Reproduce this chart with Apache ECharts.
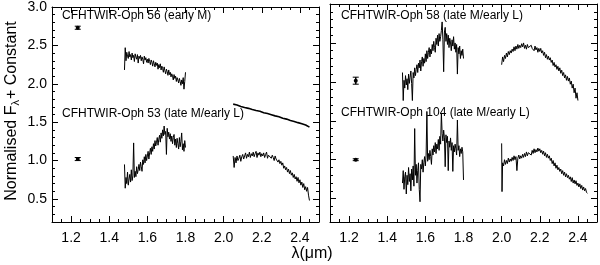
<!DOCTYPE html>
<html><head><meta charset="utf-8">
<script src="https://cdn.jsdelivr.net/npm/echarts@6/dist/echarts.min.js"></script>
<style>html,body{margin:0;padding:0;background:#fff}#c{width:600px;height:265px}</style>
</head><body><div id="c"></div>
<script>
// ---- data ----
const waveH = [
1.480,1.484,1.488,1.492,1.496,1.500,1.504,1.508,1.512,1.516,
1.520,1.524,1.528,1.532,1.536,1.540,1.544,1.548,1.552,1.556,
1.560,1.564,1.568,1.572,1.576,1.580,1.584,1.588,1.592,1.596,
1.600,1.604,1.608,1.612,1.616,1.620,1.624,1.628,1.632,1.636,
1.640,1.644,1.648,1.652,1.656,1.660,1.664,1.668,1.672,1.676,
1.680,1.684,1.688,1.692,1.696,1.700,1.704,1.708,1.712,1.716,
1.720,1.724,1.728,1.732,1.736,1.740,1.744,1.748,1.752,1.756,
1.760,1.764,1.768,1.772,1.776,1.780,1.784,1.788,1.792,1.796,
1.800];
const waveK56 = [2.05,2.06,2.07,2.08,2.09,2.10,2.11,2.12,2.13,2.14,2.15,2.16,2.17,2.18,2.19,2.20,2.21,2.22,2.23,2.24,2.25,2.26,2.27,2.28,2.29,2.30,2.31,2.32,2.33,2.34,2.35,2.36,2.37,2.38,2.39,2.40,2.41,2.42,2.43,2.44,2.45];
const waveK53 = [
2.050,2.055,2.060,2.065,2.070,2.075,2.080,2.085,2.090,2.095,
2.100,2.105,2.110,2.115,2.120,2.125,2.130,2.135,2.140,2.145,
2.150,2.155,2.160,2.165,2.170,2.175,2.180,2.185,2.190,2.195,
2.200,2.205,2.210,2.215,2.220,2.225,2.230,2.235,2.240,2.245,
2.250,2.255,2.260,2.265,2.270,2.275,2.280,2.285,2.290,2.295,
2.300,2.305,2.310,2.315,2.320,2.325,2.330,2.335,2.340,2.345,
2.350,2.355,2.360,2.365,2.370,2.375,2.380,2.385,2.390,2.395,
2.400,2.405,2.410,2.415,2.420,2.425,2.430,2.435,2.440,2.445,
2.450];
const waveK58 = [
2.000,2.005,2.010,2.015,2.020,2.025,2.030,2.035,2.040,2.045,
2.050,2.055,2.060,2.065,2.070,2.075,2.080,2.085,2.090,2.095,
2.100,2.105,2.110,2.115,2.120,2.125,2.130,2.135,2.140,2.145,
2.150,2.155,2.160,2.165,2.170,2.175,2.180,2.185,2.190,2.195,
2.200,2.205,2.210,2.215,2.220,2.225,2.230,2.235,2.240,2.245,
2.250,2.255,2.260,2.265,2.270,2.275,2.280,2.285,2.290,2.295,
2.300,2.305,2.310,2.315,2.320,2.325,2.330,2.335,2.340,2.345,
2.350,2.355,2.360,2.365,2.370,2.375,2.380,2.385,2.390,2.395,
2.400];
const waveK104 = [
2.000,2.002,
2.005,2.010,2.015,2.020,2.025,2.030,2.035,2.040,2.045,
2.050,2.055,2.060,2.065,2.070,2.075,2.080,2.085,2.090,2.095,
2.100,2.105,2.110,2.115,2.120,2.125,2.130,2.135,2.140,2.145,
2.150,2.155,2.160,2.165,2.170,2.175,2.180,2.185,2.190,2.195,
2.200,2.205,2.210,2.215,2.220,2.225,2.230,2.235,2.240,2.245,
2.250,2.255,2.260,2.265,2.270,2.275,2.280,2.285,2.290,2.295,
2.300,2.305,2.310,2.315,2.320,2.325,2.330,2.335,2.340,2.345,
2.350,2.355,2.360,2.365,2.370,2.375,2.380,2.385,2.390,2.395,
2.400,2.405,2.410,2.415,2.420,2.425,2.430,2.435,2.440,2.445,
2.450];

const flux56H = [
2.18,2.47,2.30,2.41,2.36,2.33,2.42,2.35,2.38,2.31,
2.40,2.34,2.37,2.29,2.39,2.35,2.32,2.38,2.27,2.36,
2.33,2.37,2.30,2.35,2.32,2.26,2.36,2.31,2.34,2.28,
2.32,2.27,2.33,2.29,2.25,2.31,2.28,2.23,2.30,2.26,
2.22,2.28,2.24,2.27,2.19,2.25,2.21,2.26,2.18,2.23,
2.20,2.15,2.22,2.17,2.13,2.19,2.16,2.11,2.18,2.12,
2.15,2.09,2.13,2.10,2.05,2.12,2.07,2.10,2.03,2.08,
2.05,2.01,2.07,2.03,1.98,2.05,2.00,2.08,1.93,2.03,
2.15];
const flux56K = [1.735,1.722,1.724,1.712,1.705,1.700,1.692,1.683,1.680,1.671,1.664,1.660,1.652,1.660,1.643,1.634,1.624,1.620,1.612,1.604,1.598,1.590,1.582,1.574,1.570,1.562,1.552,1.545,1.540,1.532,1.522,1.515,1.510,1.500,1.494,1.485,1.480,1.472,1.464,1.458,1.435];
const flux53H = [
0.95,0.64,0.78,0.70,0.85,0.68,0.76,0.82,0.72,0.88,
0.74,0.80,1.23,0.78,0.86,0.79,0.92,0.83,0.88,0.95,
0.87,0.98,0.92,0.86,1.01,0.95,1.05,0.97,1.08,1.00,
1.06,1.12,1.02,1.10,1.16,1.08,1.18,1.12,1.22,1.15,
1.26,1.19,1.24,1.30,1.20,1.28,1.33,1.24,1.36,1.29,
1.40,1.32,1.45,1.34,1.38,1.08,1.42,1.31,1.37,1.28,
1.35,1.25,1.32,1.22,1.30,1.34,1.20,1.28,1.17,1.29,
1.22,1.15,1.30,1.18,1.25,1.36,1.14,1.22,1.12,1.26,
1.17];
const flux53K = [
1.06,0.91,1.04,0.97,1.06,1.00,1.03,1.07,0.99,1.05,
1.08,1.02,1.06,1.10,1.03,1.08,1.05,1.11,1.04,1.09,
1.06,1.11,1.05,1.09,1.12,1.04,1.10,1.07,1.11,1.05,
1.09,1.06,1.10,1.04,1.08,1.11,1.03,1.07,1.05,1.09,
1.03,1.07,1.04,1.00,1.06,1.02,1.04,0.98,1.01,0.96,
0.99,0.94,0.97,0.90,0.93,0.88,0.91,0.85,0.89,0.83,
0.87,0.81,0.84,0.78,0.82,0.76,0.79,0.73,0.78,0.71,
0.75,0.68,0.72,0.65,0.70,0.62,0.66,0.60,0.65,0.55,
0.48];
const flux58H = [
2.12,1.76,2.02,1.92,2.08,1.96,2.04,1.90,2.10,1.98,
2.06,2.14,1.98,1.76,2.12,2.05,2.18,2.08,2.16,2.22,
2.12,2.24,2.18,2.28,2.14,2.26,2.32,2.20,2.30,2.24,
2.36,2.26,2.40,2.30,2.38,2.44,2.32,2.42,2.36,2.48,
2.40,2.52,2.44,2.38,2.56,2.48,2.60,2.46,2.62,2.52,
2.58,2.66,2.77,2.54,2.13,2.64,2.70,2.52,2.62,2.48,
2.60,2.44,2.56,2.50,2.40,2.54,2.46,2.58,2.42,2.50,
2.38,2.48,2.10,2.44,2.36,2.46,2.30,2.40,2.34,2.42,
2.30];
const flux58K = [
2.22,2.32,2.26,2.34,2.30,2.37,2.32,2.39,2.35,2.40,
2.37,2.42,2.39,2.45,2.40,2.46,2.42,2.48,2.43,2.47,
2.44,2.49,2.45,2.50,2.43,2.47,2.42,2.48,2.44,2.46,
2.42,2.47,2.43,2.45,2.40,2.46,2.41,2.44,2.38,2.43,
2.39,2.43,2.37,2.40,2.34,2.38,2.31,2.35,2.29,2.33,
2.28,2.31,2.25,2.28,2.21,2.25,2.19,2.22,2.16,2.20,
2.14,2.18,2.11,2.15,2.08,2.12,2.05,2.09,2.02,2.07,
2.01,2.05,1.97,2.01,1.92,1.97,1.86,1.92,1.79,1.86,
1.76];
const flux104H = [
0.70,0.86,0.62,0.78,0.84,0.56,0.80,0.68,0.90,0.72,
0.82,0.60,0.88,0.74,0.92,0.66,1.40,0.80,0.94,0.70,
0.86,0.96,0.62,0.46,0.94,0.88,1.00,0.84,0.96,1.04,
0.92,1.06,1.62,0.98,1.08,1.00,1.12,1.04,0.94,1.14,
1.06,1.18,1.10,1.22,1.08,1.20,1.14,1.26,1.12,1.30,
1.20,1.60,1.34,1.24,1.38,1.28,0.91,1.32,1.22,1.30,
0.86,1.24,1.16,1.28,1.12,1.22,0.85,1.18,1.10,1.20,
1.14,1.06,1.51,1.12,1.18,1.04,1.14,1.08,1.16,1.10,
0.74];
const flux104K = [
1.21,0.59,
0.96,0.92,1.00,0.94,0.99,0.95,1.02,0.97,1.01,
0.98,1.03,0.99,1.05,1.00,1.04,0.86,1.02,1.06,1.01,
1.05,1.02,1.07,1.03,1.08,1.04,1.10,1.05,1.09,1.07,
1.11,1.06,1.12,1.08,1.14,1.09,1.13,1.10,1.15,1.11,
1.14,1.09,1.12,1.07,1.11,1.05,1.09,1.03,1.07,1.02,
1.05,0.99,1.02,0.95,0.99,0.92,0.96,0.89,0.93,0.87,
0.90,0.85,0.88,0.82,0.86,0.80,0.84,0.78,0.82,0.77,
0.80,0.75,0.78,0.72,0.77,0.70,0.74,0.69,0.73,0.67,
0.70,0.65,0.69,0.63,0.67,0.61,0.65,0.60,0.63,0.58,
0.57];

const photWave = [1.235, 1.235];
const photLeftFlux = [2.73, 1.02];
const photLeftErr = [0.02, 0.02];
const photRightFlux = [2.015, 1.00];
const photRightErr = [0.045, 0.012];

const xTickValues = [1.2,1.4,1.6,1.8,2.0,2.2,2.4];
const yTickValues = [0.5,1.0,1.5,2.0,2.5,3.0];
const spectrumLabels = ['CFHTWIR-Oph 56 (early M)','CFHTWIR-Oph 53 (late M/early L)','CFHTWIR-Oph 58 (late M/early L)','CFHTWIR-Oph 104 (late M/early L)'];

// ---- chart ----
const FONT = '"Liberation Sans", Arial, Helvetica, sans-serif';
const BLACK = '#000';
const zip = (a, b) => a.map((v, i) => [v, b[i]]);

const grids = [
  {left: 52, top: 4, width: 267, height: 218},
  {left: 330, top: 4, width: 267, height: 218}
];

function xAxesFor(g) {
  const base = {gridIndex: g, type: 'value', min: 1.1, max: 2.5, splitLine: {show: false},
    axisLine: {onZero: false, lineStyle: {color: BLACK, width: 1}}};
  const minorTick = {show: true, inside: true, length: 3, lineStyle: {color: BLACK, width: 1}};
  const majorTick = {show: true, inside: true, length: 6, customValues: xTickValues, lineStyle: {color: BLACK, width: 1}};
  return [
    Object.assign({}, base, {position: 'bottom', interval: 0.05, axisTick: minorTick,
      axisLabel: {show: true, customValues: xTickValues, formatter: v => v.toFixed(1), color: BLACK, fontSize: 14, fontFamily: FONT, margin: 9}}),
    Object.assign({}, base, {position: 'bottom', axisLine: {show: false}, axisTick: majorTick, axisLabel: {show: false}}),
    Object.assign({}, base, {position: 'top', interval: 0.05, axisTick: minorTick, axisLabel: {show: false}}),
    Object.assign({}, base, {position: 'top', axisLine: {show: false}, axisTick: majorTick, axisLabel: {show: false}})
  ];
}
function yAxesFor(g, showLabels) {
  const base = {gridIndex: g, type: 'value', min: 0.2, max: 3.0, splitLine: {show: false},
    axisLine: {onZero: false, lineStyle: {color: BLACK, width: 1}}};
  const minorTick = {show: true, inside: true, length: 3, lineStyle: {color: BLACK, width: 1}};
  const majorTick = {show: true, inside: true, length: 6, customValues: yTickValues, lineStyle: {color: BLACK, width: 1}};
  return [
    Object.assign({}, base, {position: 'left', interval: 0.1, axisTick: minorTick,
      axisLabel: showLabels ? {show: true, customValues: yTickValues, formatter: v => v.toFixed(1), color: BLACK, fontSize: 14, fontFamily: FONT, margin: 5} : {show: false}}),
    Object.assign({}, base, {position: 'left', axisLine: {show: false}, axisTick: majorTick, axisLabel: {show: false}}),
    Object.assign({}, base, {position: 'right', interval: 0.1, axisTick: minorTick, axisLabel: {show: false}}),
    Object.assign({}, base, {position: 'right', axisLine: {show: false}, axisTick: majorTick, axisLabel: {show: false}})
  ];
}

function specSeries(axisIdx, wave, flux, width) {
  return {type: 'line', xAxisIndex: axisIdx, yAxisIndex: axisIdx, data: zip(wave, flux),
    showSymbol: false, symbol: 'none', lineStyle: {color: BLACK, width: width || 1}, silent: true, clip: true};
}
function photRender(params, api) {
  const x = api.value(0), y = api.value(1), e = api.value(2);
  const p = api.coord([x, y]);
  const t = api.coord([x, y + e]);
  const b = api.coord([x, y - e]);
  return {type: 'group', children: [
    {type: 'line', shape: {x1: p[0], y1: t[1], x2: p[0], y2: b[1]}, style: {stroke: BLACK, lineWidth: 1.5}},
    {type: 'line', shape: {x1: p[0] - 3, y1: t[1], x2: p[0] + 3, y2: t[1]}, style: {stroke: BLACK, lineWidth: 1}},
    {type: 'line', shape: {x1: p[0] - 3, y1: b[1], x2: p[0] + 3, y2: b[1]}, style: {stroke: BLACK, lineWidth: 1}},
    {type: 'circle', shape: {cx: p[0], cy: p[1], r: 2}, style: {fill: BLACK}}
  ]};
}
function photSeries(axisIdx, fluxes, errs) {
  return {type: 'custom', xAxisIndex: axisIdx, yAxisIndex: axisIdx, renderItem: photRender,
    data: photWave.map((w, i) => [w, fluxes[i], errs[i]]), encode: {x: 0, y: 1}, silent: true};
}

function label(text, x, y) {
  return {type: 'text', x: x, y: y, z: 10, style: {text: text, font: '12px ' + FONT, fill: BLACK, align: 'left', verticalAlign: 'middle'}};
}

const option = {
  animation: false,
  backgroundColor: '#fff',
  grid: grids,
  xAxis: xAxesFor(0).concat(xAxesFor(1)),
  yAxis: yAxesFor(0, true).concat(yAxesFor(1, false)),
  series: [
    specSeries(0, waveH, flux56H),
    specSeries(0, waveK56, flux56K, 1.6),
    specSeries(0, waveH, flux53H),
    specSeries(0, waveK53, flux53K),
    photSeries(0, photLeftFlux, photLeftErr),
    specSeries(4, waveH, flux58H),
    specSeries(4, waveK58, flux58K),
    specSeries(4, waveH, flux104H),
    specSeries(4, waveK104, flux104K),
    photSeries(4, photRightFlux, photRightErr)
  ],
  graphic: [
    label(spectrumLabels[0], 62, 16),
    label(spectrumLabels[1], 62, 114),
    label(spectrumLabels[2], 341, 16),
    label(spectrumLabels[3], 341, 113),
    {type: 'text', x: 312, y: 254, style: {text: 'λ(μm)', font: '16px ' + FONT, fill: BLACK, align: 'center', verticalAlign: 'middle'}},
    {type: 'text', x: 12, y: 111, rotation: Math.PI / 2, style: {
      text: '{a|Normalised F}{s|λ}{a|+ Constant}', align: 'center', verticalAlign: 'middle', fill: BLACK,
      rich: {
        a: {fontSize: 16, fontFamily: FONT, fill: BLACK, color: BLACK},
        s: {fontSize: 11, fontFamily: FONT, fill: BLACK, color: BLACK, padding: [8, 1, 0, 0]}
      }}}
  ]
};

const chart = echarts.init(document.getElementById('c'), null, {renderer: 'canvas'});
chart.setOption(option);
</script>
</body></html>
